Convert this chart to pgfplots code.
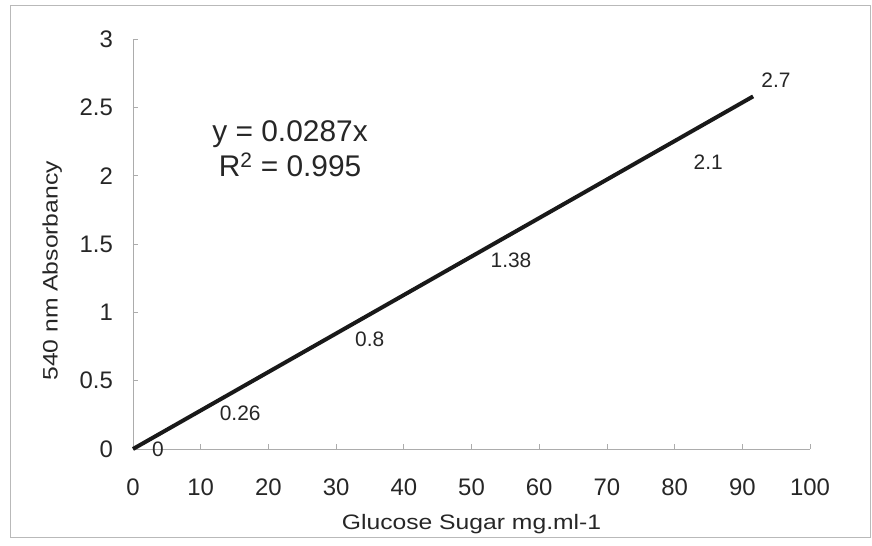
\documentclass[border=0pt]{standalone}
\usepackage{fontspec}
\setmainfont{Liberation Sans}
\newfontfamily\labelfont{Liberation Sans}[FakeStretch=1.18]
\usepackage{pgfplots}
\pgfplotsset{compat=1.18}

\begin{document}
\begin{tikzpicture}[x=1bp,y=1bp]
\useasboundingbox (-133,-97) rectangle (739,449);
\draw[gray!55,line width=0.9pt] (-123,-88) rectangle (737,444);
\begin{axis}[
  at={(0,0)},anchor=origin,
  scale only axis,
  width=677bp,height=410bp,
  xmin=0,xmax=100,ymin=0,ymax=3,
  xtick={0,10,...,100},
  ytick={0,0.5,...,3},
  axis lines*=left,
  axis line style={gray!65,line width=0.9pt,-},
  tick style={gray!65,line width=0.7pt},
  tick align=inside,
  major tick length=5pt,
  clip=false,
  /pgf/number format/assume math mode=true,
  ticklabel style={font=\fontsize{24}{28}\selectfont,text=black!85,inner sep=0pt},
  xticklabel style={anchor=north,yshift=-30pt},
  yticklabel style={anchor=east,xshift=-20pt},
  xlabel={Glucose Sugar mg.ml-1},
  ylabel={540 nm Absorbancy},
  label style={font=\labelfont\fontsize{21}{24}\selectfont,text=black!85,inner sep=0pt},
  xlabel style={at={(axis description cs:0.5,0)},anchor=center,yshift=-75pt},
  ylabel style={at={(axis description cs:0,0.5)},anchor=center,xshift=-27pt,yshift=81pt},
]
% trend line y = 0.0287x
\addplot[black!90,line width=4pt] coordinates {(0,0) (91.6,2.58)};
% measured points (labels only)
\addplot[draw=none,mark=none,
  nodes near coords,point meta=explicit symbolic,
  nodes near coords style={anchor=west,inner sep=0pt,xshift=19pt,font=\fontsize{21}{24}\selectfont,text=black!85}]
  table[meta=lab] {
x   y    lab
0   0    0
10  0.26 0.26
30  0.8  0.8
50  1.38 1.38
80  2.1  2.1
90  2.7  2.7
};
\node[font=\fontsize{30}{35}\selectfont,text=black!85,align=center,inner sep=0pt]
  at (axis cs:23.2,2.2) {y = 0.0287x\\R\textsuperscript{2} = 0.995};
\end{axis}
\end{tikzpicture}
\end{document}
